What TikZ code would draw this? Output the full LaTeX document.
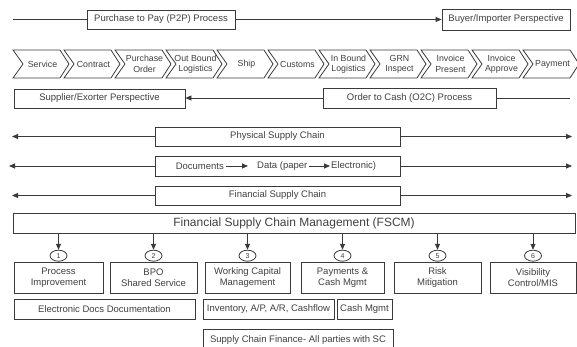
\documentclass[tikz,border=0pt]{standalone}
\usepackage{fontspec}
\setmainfont{Liberation Sans}
\usetikzlibrary{arrows.meta,shapes.geometric}
\definecolor{lncol}{HTML}{3A3A3A}
\definecolor{txcol}{HTML}{404040}
\begin{document}
\begin{tikzpicture}[x=1pt,y=-1pt,
  font=\fontsize{9.5}{11}\selectfont, text=txcol,
  box/.style={draw=lncol, line width=0.8pt, inner sep=0pt, align=center, fill=white},
  conn/.style={draw=lncol, line width=0.8pt},
  arr/.style={conn, -{Triangle[length=6pt,width=5pt]}},
  chev/.style={draw=lncol, line width=0.8pt, fill=white},
  chevtext/.style={align=center, inner sep=0pt, font=\fontsize{8.8}{10.3}\selectfont},
  num/.style={draw=lncol, line width=0.8pt, ellipse, inner sep=0pt, minimum width=17pt, minimum height=11pt, font=\fontsize{7}{8}\selectfont, fill=white},
  txt/.style={inner sep=0pt}
]
\useasboundingbox (0,0) rectangle (577,347);
\clip (0,0) rectangle (577,347);

% --- top row
\coordinate (p2pstart) at (13,19.5);
\node[box, minimum width=148pt, minimum height=19pt] (p2p) at (161,19.5) {Purchase to Pay (P2P) Process};
\node[box, minimum width=128pt, minimum height=21pt] (buyer) at (506,19.5) {Buyer/Importer Perspective};
\draw[conn] (p2pstart) -- (p2p.west);
\draw[arr] (p2p.east) -- (buyer.west);

% --- chevrons
\foreach \t [count=\i from 0] in {Service, Contract, {Purchase\\Order}, {Out Bound\\Logistics}, Ship, Customs, {In Bound\\Logistics}, {GRN\\Inspect}, {Invoice\\Present}, {Invoice\\Approve}, Payment} {
  \pgfmathsetmacro\L{13+51*\i}
  \draw[chev] (\L,50) -- ++(47,0) -- ++(9,14) -- ++(-9,14) -- ++(-47,0) -- ++(10,-14) -- cycle;
  \node[chevtext] (c\i) at (\L+29.5,64) {\t};
}

% --- O2C row
\node[box, minimum width=171pt, minimum height=19pt] (supp) at (99.5,98.5) {Supplier/Exorter Perspective};
\node[box, minimum width=173pt, minimum height=20pt] (o2c) at (409.5,98) {Order to Cash (O2C) Process};
\coordinate (o2cend) at (570,98);
\draw[conn] (o2cend) -- (o2c.east);
\draw[arr] (o2c.west) -- (supp.east |- o2c.west);

% --- supply chain rows
\node[box, minimum width=245pt, minimum height=19pt] (phys) at (277.5,136.5) {Physical Supply Chain};
\coordinate (physL) at (12,136.5);
\coordinate (physR) at (572,136.5);
\draw[arr] (phys.west) -- (physL);
\draw[arr] (phys.east) -- (physR);

\node[box, minimum width=245pt, minimum height=20pt] (docs) at (277.5,166) {};
\coordinate (docsL) at (9,166);
\coordinate (docsR) at (572,166);
\draw[arr] (docs.west) -- (docsL);
\draw[arr] (docs.east) -- (docsR);
\node[txt, anchor=east] (d1) at (224,166) {Documents};
\node[txt, anchor=west] (d2) at (257,166) {Data (paper};
\node[txt, anchor=west] (d3) at (331,166) {Electronic)};
\draw[arr, shorten <=2pt, shorten >=9pt] (d1.east) -- (d2.west);
\draw[arr, shorten <=1pt, shorten >=1pt] (d2.east) -- (d3.west);

\node[box, minimum width=245pt, minimum height=19pt] (fin) at (277.5,195.5) {Financial Supply Chain};
\coordinate (finL) at (12,195.5);
\coordinate (finR) at (572,195.5);
\draw[arr] (fin.west) -- (finL);
\draw[arr] (fin.east) -- (finR);

% --- FSCM
\node[box, minimum width=562pt, minimum height=20pt, font=\fontsize{12}{14}\selectfont] (fscm) at (294,223) {Financial Supply Chain Management (FSCM)};

% --- six pillars
\foreach \x/\n/\t/\w in {58.5/1/{Process\\Improvement}/89, 153.5/2/{BPO\\Shared Service}/87, 247.5/3/{Working Capital\\Management}/85, 342.5/4/{Payments \&\\Cash Mgmt}/83, 437.5/5/{Risk\\Mitigation}/87, 533/6/{Visibility\\Control/MIS}/86} {
  \node[num] (n\n) at (\x,255.7) {\n};
  \node[box, minimum width=\w pt, minimum height=31pt] (b\n) at (\x,277.5) {\t};
  \draw[arr] (fscm.south -| n\n.north) -- (n\n.north);
}

% --- lower boxes
\node[box, minimum width=181pt, minimum height=20pt] (edocs) at (104.5,309) {Electronic Docs Documentation};
\node[box, minimum width=131pt, minimum height=20pt] (inv) at (268.5,309) {Inventory, A/P, A/R, Cashflow};
\node[box, minimum width=55pt, minimum height=20pt] (cash) at (364.5,309) {Cash Mgmt};
\node[box, minimum width=190pt, minimum height=22pt] (scf) at (298,340) {Supply Chain Finance- All parties with SC};
\end{tikzpicture}
\end{document}
